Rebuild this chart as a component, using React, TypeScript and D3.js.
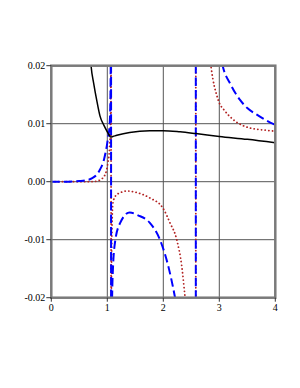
import React from "react";
import * as d3 from "d3";

// tick values
const xTicks = [0, 1, 2, 3, 4];
const yTicks = [-0.02, -0.01, 0, 0.01, 0.02];
const yTickLabels = ["-0.02", "-0.01", "0.00", "0.01", "0.02"];

// black solid curve
const blackX = [0.65, 0.71, 0.76, 0.81, 0.87, 0.94, 1.0, 1.03, 1.06, 1.1, 1.17, 1.4, 1.76, 2.0, 2.3, 2.58, 3.0, 3.5, 4.0];
const blackY = [0.03, 0.02, 0.0168, 0.0141, 0.0113, 0.0097, 0.0086, 0.0081, 0.0077, 0.0078, 0.008, 0.0085, 0.0088, 0.0088, 0.0086, 0.0083, 0.0078, 0.0073, 0.0067];

// blue dashed curve (values beyond the frame are clipped)
const blueX = [0, 0.3, 0.5, 0.6, 0.73, 0.8, 0.87, 0.94, 0.99, 1.02, 1.04, 1.055, 1.065, 1.067, 1.068, 1.075, 1.09, 1.1, 1.14, 1.23, 1.4, 1.55, 1.76, 1.94, 2.09, 2.21, 2.3, 2.45, 2.58, 2.581, 2.9, 3.06, 3.2, 3.37, 3.5, 3.67, 3.85, 4.0];
const blueY = [0, 0, 0.0001, 0.0002, 0.0006, 0.0011, 0.0021, 0.0038, 0.0061, 0.008, 0.0095, 0.014, 0.03, 1, -1, -0.03, -0.018, -0.0152, -0.0103, -0.0071, -0.0053, -0.0058, -0.0071, -0.01, -0.0146, -0.02, -0.025, -0.04, -1, 1, 0.03, 0.02, 0.0168, 0.0141, 0.0127, 0.01155, 0.0105, 0.0098];

// red dotted curve
const redX = [0, 0.6, 0.78, 0.87, 0.96, 1.01, 1.04, 1.05, 1.06, 1.066, 1.067, 1.068, 1.07, 1.08, 1.1, 1.15, 1.23, 1.35, 1.5, 1.76, 1.99, 2.12, 2.24, 2.33, 2.39, 2.45, 2.58, 2.581, 2.75, 2.85, 2.98, 3.1, 3.25, 3.55, 3.8, 4.0];
const redY = [0, 0, 0.00005, 0.0003, 0.0012, 0.0032, 0.0058, 0.0078, 0.013, 0.03, 1, -1, -0.03, -0.01, -0.0037, -0.0024, -0.0019, -0.0016, -0.0018, -0.0028, -0.0045, -0.0071, -0.01, -0.0146, -0.02, -0.025, -1, 1, 0.03, 0.02, 0.0141, 0.0122, 0.0107, 0.00925, 0.0089, 0.0087];

const width = 300;
const height = 388;
const left = 51.3;
const right = 275.3;
const top = 65.7;
const bottom = 297.7;

const zip = (xs: number[], ys: number[]) => xs.map((x, i) => [x, ys[i]] as [number, number]);

export default function App() {
  const x = d3.scaleLinear().domain([0, 4]).range([left, right]);
  const y = d3.scaleLinear().domain([-0.02, 0.02]).range([bottom, top]);

  const line = d3.line<[number, number]>()
    .x(d => x(d[0]))
    .y(d => y(d[1]))
    .curve(d3.curveMonotoneX);

  const font = "'Liberation Serif', 'DejaVu Serif', serif";

  return (
    <svg width={width} height={height} style={{ position: "absolute", left: 0, top: 0, background: "#fff" }}>
      <defs>
        <clipPath id="plot">
          <rect x={left} y={top} width={right - left} height={bottom - top} />
        </clipPath>
      </defs>

      {/* grid */}
      {xTicks.map(t => (
        <line key={"gx" + t} x1={x(t)} x2={x(t)} y1={top} y2={bottom} stroke="#555" strokeWidth={1} />
      ))}
      {yTicks.map(t => (
        <line key={"gy" + t} x1={left} x2={right} y1={y(t)} y2={y(t)} stroke="#555" strokeWidth={1} />
      ))}

      {/* curves */}
      <g clipPath="url(#plot)" fill="none">
        <path d={line(zip(redX, redY)) ?? ""} stroke="#b22222" strokeWidth={1.8} strokeLinecap="round" strokeDasharray="0.1,3.6" />
        <path d={line(zip(blueX, blueY)) ?? ""} stroke="#0000ff" strokeWidth={2} strokeDasharray="8.5,4" />
        <path d={line(zip(blackX, blackY)) ?? ""} stroke="#000" strokeWidth={1.5} />
      </g>

      {/* frame */}
      <rect x={left} y={top} width={right - left} height={bottom - top} fill="none" stroke="#7a7a7a" strokeWidth={2.5} />

      {/* ticks and labels */}
      {xTicks.map(t => (
        <g key={"tx" + t}>
          <line x1={x(t)} x2={x(t)} y1={bottom} y2={bottom + 4} stroke="#333" />
          <text x={x(t)} y={bottom + 13} textAnchor="middle" fontSize={10} fontFamily={font}>{t}</text>
        </g>
      ))}
      {yTicks.map((t, i) => (
        <g key={"ty" + t}>
          <line x1={left - 5} x2={left} y1={y(t)} y2={y(t)} stroke="#333" />
          <text x={left - 6} y={y(t) + 3.5} textAnchor="end" fontSize={10} fontFamily={font}>{yTickLabels[i]}</text>
        </g>
      ))}
    </svg>
  );
}
